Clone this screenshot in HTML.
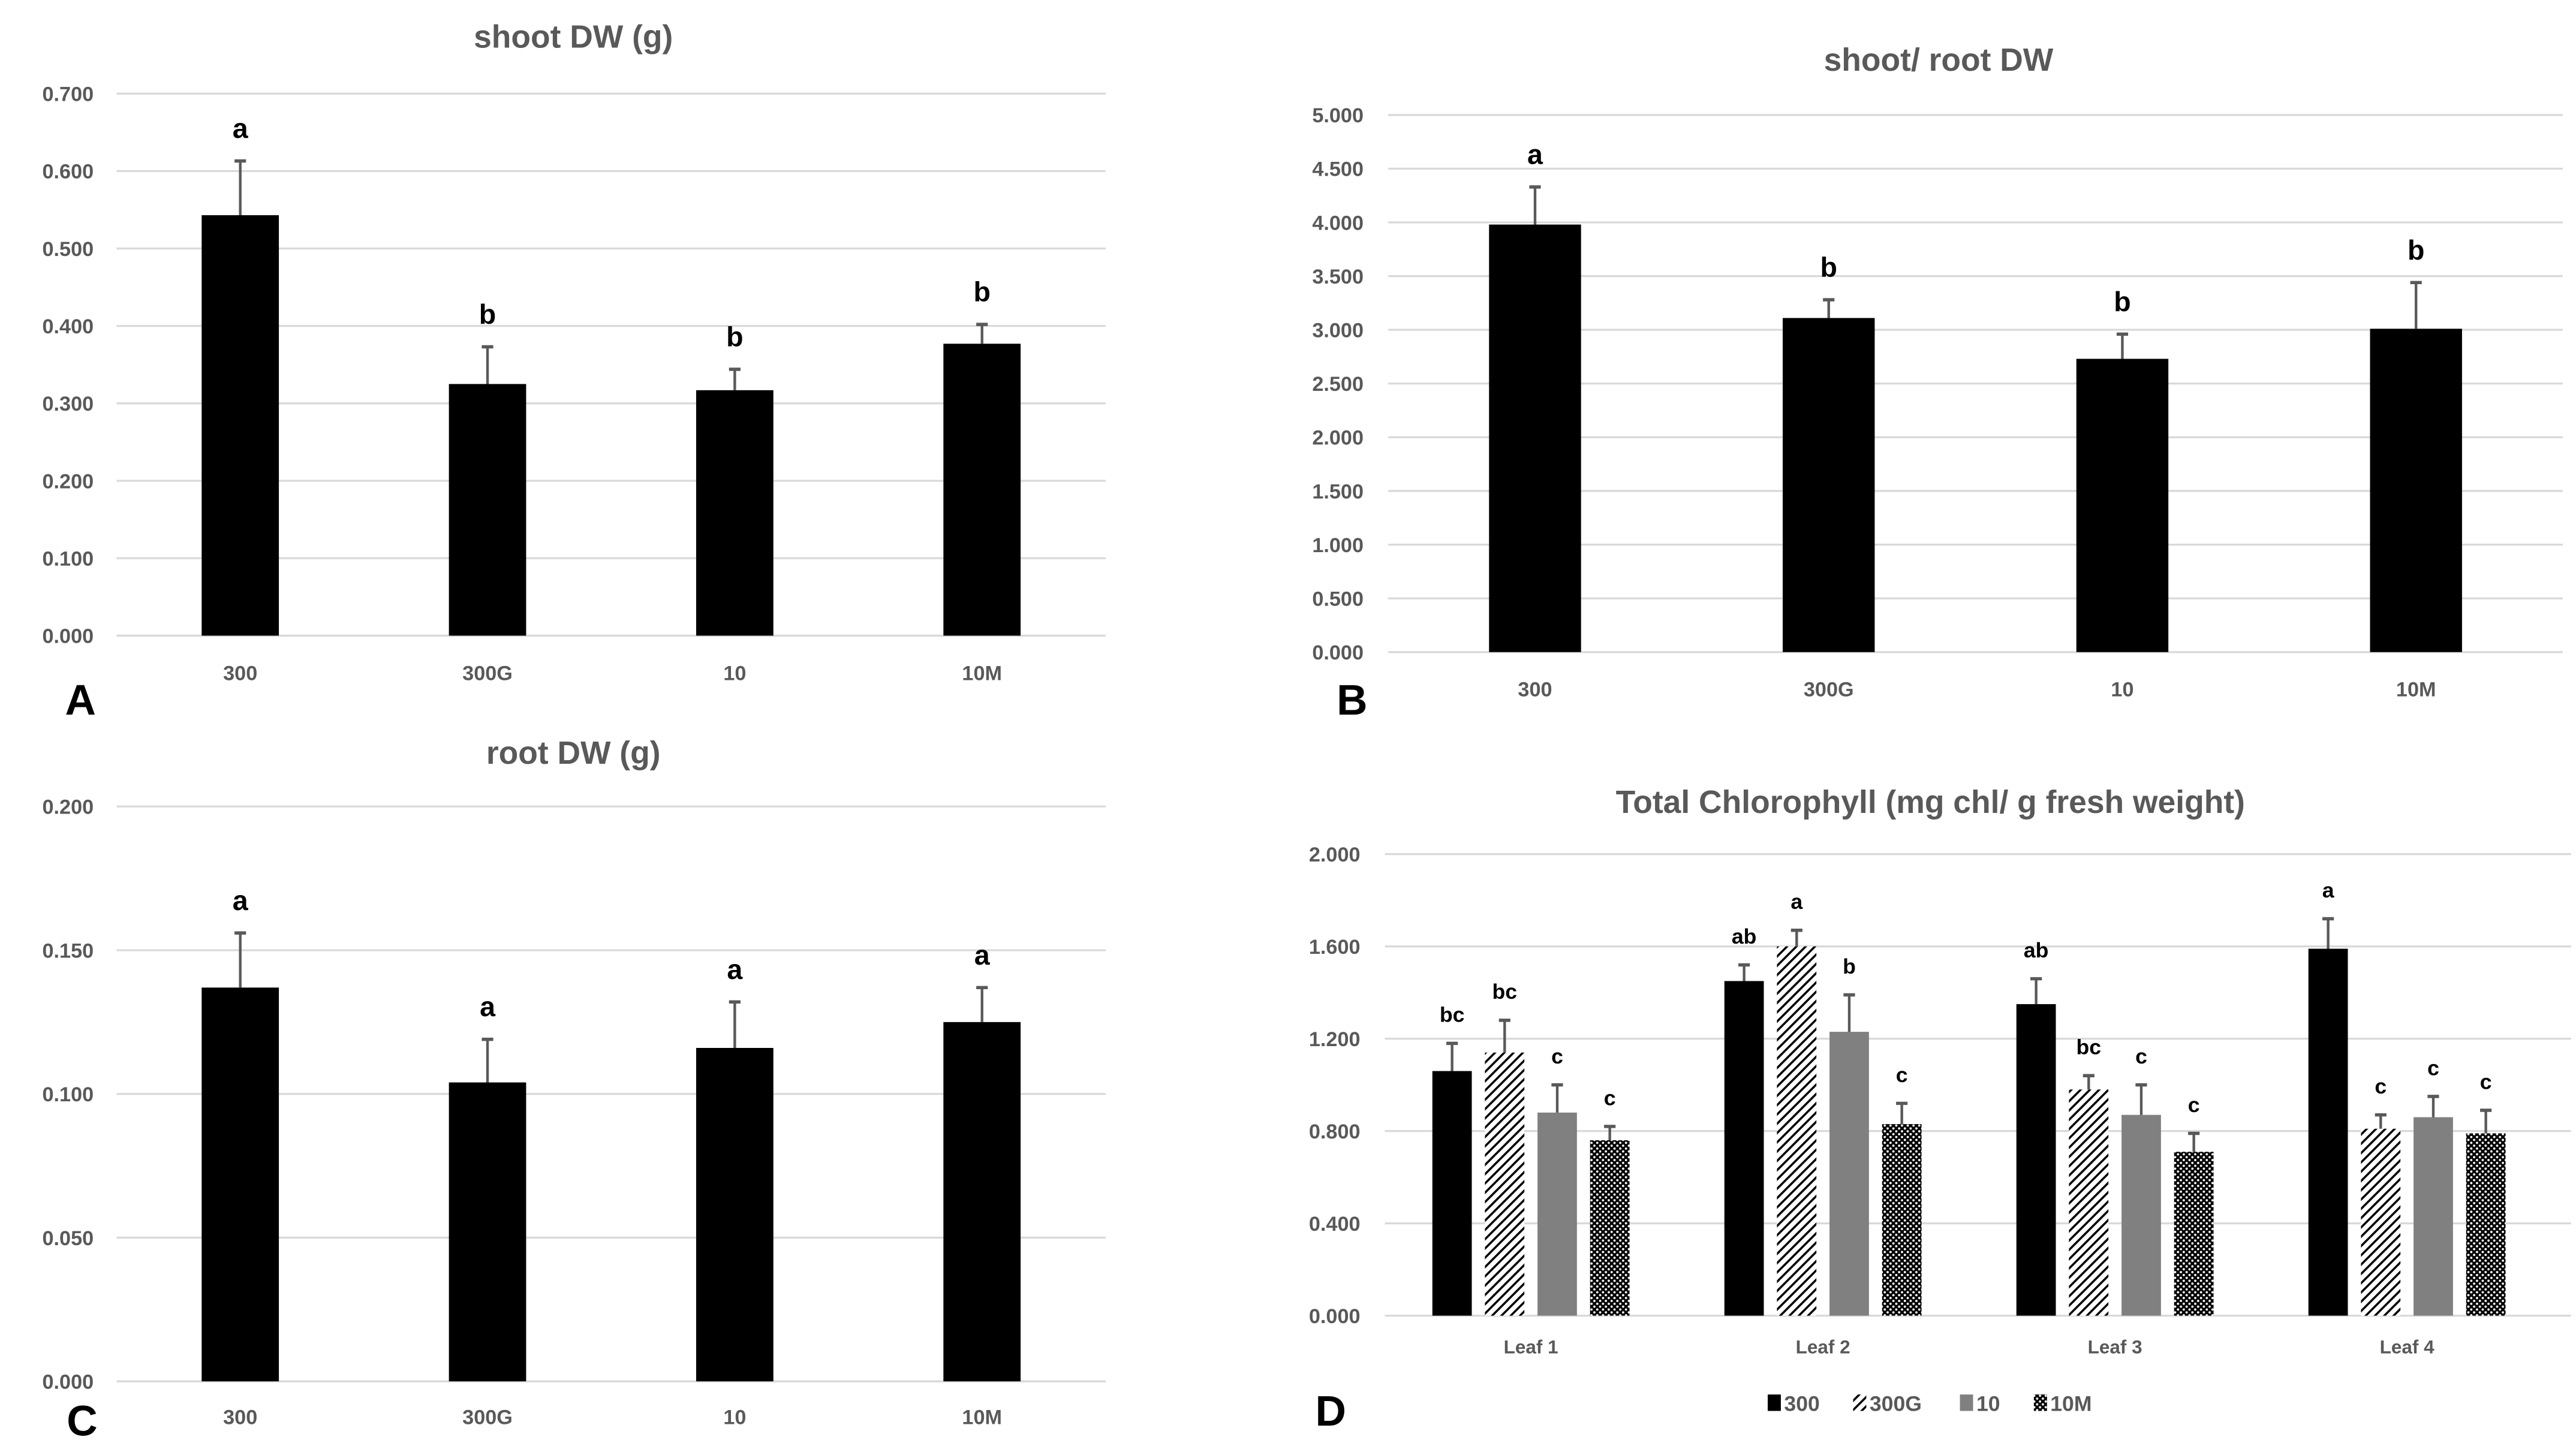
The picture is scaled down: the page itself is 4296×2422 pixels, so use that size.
<!DOCTYPE html>
<html><head><meta charset="utf-8"><style>
html,body{margin:0;padding:0;background:#fff;}
svg{display:block;font-family:"Liberation Sans",Arial,sans-serif;}
.tick{fill:#595959;font-size:12.5px;font-weight:bold;}
.ttl{fill:#595959;font-size:19.5px;font-weight:bold;}
.let{fill:#000;font-size:17px;font-weight:bold;}
.letd{fill:#000;font-size:13px;font-weight:bold;}
.pl{fill:#000;font-size:26px;font-weight:bold;}
</style></head><body>
<svg id="fig" width="4296" height="2422" viewBox="0 0 1568 884" xmlns="http://www.w3.org/2000/svg">
<defs>
<pattern id="hatch" patternUnits="userSpaceOnUse" width="4" height="4" patternTransform="rotate(45)">
<rect width="4" height="4" fill="#fff"/><rect x="0" y="0" width="1.3" height="4" fill="#000"/></pattern>
<pattern id="dots" patternUnits="userSpaceOnUse" width="3.5" height="3.5">
<rect width="3.5" height="3.5" fill="#000"/><circle cx="1" cy="1" r="0.7" fill="#fff"/><circle cx="2.75" cy="2.75" r="0.7" fill="#fff"/></pattern>
</defs>
</svg>
<script>
// ---- data ----
const cats = ["300","300G","10","10M"];
const shootVals = [0.543,0.325,0.317,0.377];
const shootErr = [0.070,0.048,0.027,0.025];
const shootLet = ["a","b","b","b"];
const ratioVals = [3.98,3.11,2.73,3.01];
const ratioErr = [0.35,0.17,0.23,0.43];
const ratioLet = ["a","b","b","b"];
const rootVals = [0.137,0.104,0.116,0.125];
const rootErr = [0.019,0.015,0.016,0.012];
const rootLet = ["a","a","a","a"];
const shootTicks = ["0.000","0.100","0.200","0.300","0.400","0.500","0.600","0.700"];
const ratioTicks = ["0.000","0.500","1.000","1.500","2.000","2.500","3.000","3.500","4.000","4.500","5.000"];
const rootTicks = ["0.000","0.050","0.100","0.150","0.200"];
const leafCats = ["Leaf 1","Leaf 2","Leaf 3","Leaf 4"];
const series = ["300","300G","10","10M"];
const chl300 = [1.06,1.45,1.35,1.59];
const chl300G = [1.14,1.60,0.98,0.81];
const chl10 = [0.88,1.23,0.87,0.86];
const chl10M = [0.76,0.83,0.71,0.79];
const err300 = [0.12,0.07,0.11,0.13];
const err300G = [0.14,0.07,0.06,0.06];
const err10 = [0.12,0.16,0.13,0.09];
const err10M = [0.06,0.09,0.08,0.10];
const let300 = ["bc","ab","ab","a"];
const let300G = ["bc","a","bc","c"];
const let10 = ["c","b","c","c"];
const let10M = ["c","c","c","c"];
const chlTicks = ["0.000","0.400","0.800","1.200","1.600","2.000"];

const svg = document.getElementById('fig');
const NS = "http://www.w3.org/2000/svg";
function mk(tag, attrs, parent, text){
  const e = document.createElementNS(NS, tag);
  for (const k in attrs) e.setAttribute(k, attrs[k]);
  if (text !== undefined) e.textContent = text;
  (parent||svg).appendChild(e);
  return e;
}

function panel(p){
  const g = mk('g',{});
  
  
  const max = parseFloat(p.ticks[p.ticks.length-1]);
  const y = v => p.y0 - (v/max)*(p.y0 - p.yTop);
  const t = mk('text',{x:p.tx,y:p.ty,'text-anchor':'middle','class':'ttl'},g,p.title);
  
  
  p.ticks.forEach(tk=>{
    const v = parseFloat(tk);
    const l = mk('line',{x1:p.gx0,x2:p.gx1,y1:y(v),y2:y(v),stroke:'#d9d9d9','stroke-width':1.2},g);
    
    
    const tl = mk('text',{x:p.lx,y:y(v)+4.5,'text-anchor':'end','class':'tick'},g,tk);
    
    
  });
  const step = (p.gx1-p.gx0)/p.cats.length;
  p.cats.forEach((c,i)=>{
    const cx = p.gx0 + step*(i+0.5);
    const b = mk('rect',{x:cx-p.bw/2,y:y(p.vals[i]),width:p.bw,height:p.y0-y(p.vals[i]),fill:'#000'},g);
    
    
    const ey = y(p.vals[i]+p.errs[i]);
    const e1 = mk('line',{x1:cx,x2:cx,y1:y(p.vals[i]),y2:ey,stroke:'#595959','stroke-width':1.6},g);
    
    
    mk('line',{x1:cx-3.5,x2:cx+3.5,y1:ey,y2:ey,stroke:'#595959','stroke-width':2},g);
    const lt = mk('text',{x:cx,y:ey-14,'text-anchor':'middle','class':'let'},g,p.lets[i]);
    
    
    const cl = mk('text',{x:cx,y:p.cy,'text-anchor':'middle','class':'tick'},g,c);
    
    
  });
  const pl = mk('text',{x:p.px,y:p.py,'text-anchor':'middle','class':'pl'},g,p.letter);
  
  
}

panel({name:'shoot-dw-chart',title:'shoot DW (g)',tx:349,ty:29,ticks:shootTicks,y0:387,yTop:57,gx0:71,gx1:673,lx:57,bw:47,
  cats:cats,vals:shootVals,errs:shootErr,lets:shootLet,cy:414,letter:'A',px:49,py:435});
panel({name:'shoot-root-ratio-chart',title:'shoot/ root DW',tx:1180,ty:43,ticks:ratioTicks,y0:397,yTop:70,gx0:845,gx1:1560,lx:830,bw:56,
  cats:cats,vals:ratioVals,errs:ratioErr,lets:ratioLet,cy:424,letter:'B',px:823,py:435});
panel({name:'root-dw-chart',title:'root DW (g)',tx:349,ty:465,ticks:rootTicks,y0:841,yTop:491,gx0:71,gx1:673,lx:57,bw:47,
  cats:cats,vals:rootVals,errs:rootErr,lets:rootLet,cy:867,letter:'C',px:50,py:874});

// ---- Panel D ----
(function(){
  const g = mk('g',{});
  
  
  const y0=801, yTop=520, max=2.0, gx0=843, gx1=1565;
  const y = v => y0 - (v/max)*(y0-yTop);
  const t = mk('text',{x:1175,y:495,'text-anchor':'middle','class':'ttl'},g,'Total Chlorophyll (mg chl/ g fresh weight)');
  
  
  chlTicks.forEach(tk=>{
    const v=parseFloat(tk);
    const l = mk('line',{x1:gx0,x2:gx1,y1:y(v),y2:y(v),stroke:'#d9d9d9','stroke-width':1.2},g);
    
    
    const tl = mk('text',{x:828,y:y(v)+4.5,'text-anchor':'end','class':'tick'},g,tk);
    
    
  });
  const vals=[chl300,chl300G,chl10,chl10M], errs=[err300,err300G,err10,err10M], lets=[let300,let300G,let10,let10M];
  const fills=['#000','url(#hatch)','#808080','url(#dots)'];
  const cx0=843, cx1=1554;
  const gstep=(cx1-cx0)/leafCats.length, bw=24, bstep=32;
  leafCats.forEach((c,i)=>{
    const gc = cx0+gstep*(i+0.5);
    series.forEach((s,j)=>{
      const cx = gc + (j-1.5)*bstep;
      const v=vals[j][i];
      const b = mk('rect',{x:cx-bw/2,y:y(v),width:bw,height:y0-y(v),fill:fills[j]},g);
      
      
      const ey=y(v+errs[j][i]);
      const e1 = mk('line',{x1:cx,x2:cx,y1:y(v),y2:ey,stroke:'#595959','stroke-width':1.6},g);
      
      
      mk('line',{x1:cx-3.5,x2:cx+3.5,y1:ey,y2:ey,stroke:'#595959','stroke-width':2},g);
      const lt = mk('text',{x:cx,y:ey-13,'text-anchor':'middle','class':'letd'},g,lets[j][i]);
      
      
    });
    const cl = mk('text',{x:gc,y:824,'text-anchor':'middle','class':'tick','style':'font-size:11.5px'},g,c);
    
    
  });
  // legend
  const lg = mk('g',{},g);
  
  
  const lx=[1076,1128,1193,1238];
  series.forEach((s,j)=>{
    const sw = mk('rect',{x:lx[j],y:849,width:8,height:10,fill:fills[j]},lg);
    
    
    const tx = mk('text',{x:lx[j]+10,y:859,'class':'tick','style':'font-size:13px'},lg,s);
    
    
  });
  const pl = mk('text',{x:810,y:868,'text-anchor':'middle','class':'pl'},g,'D');
  
  
})();
</script>
</body></html>
